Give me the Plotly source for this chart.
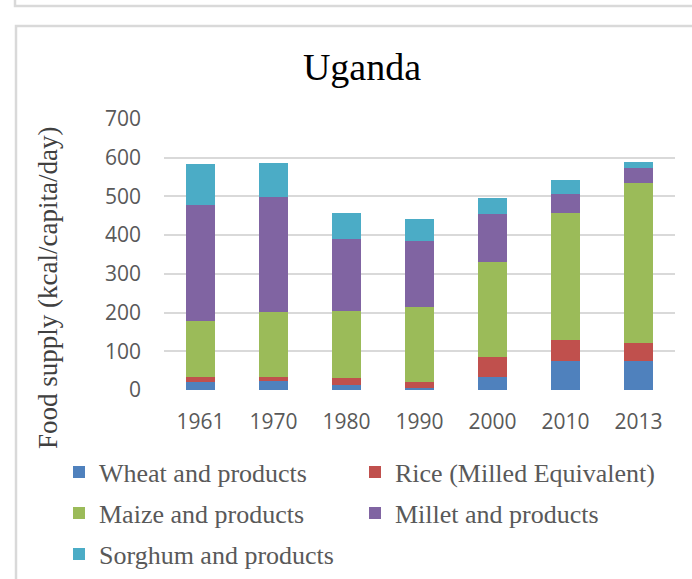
import plotly.graph_objects as go

years = ["1961", "1970", "1980", "1990", "2000", "2010", "2013"]
wheat = [21, 24, 12, 5, 34, 76, 76]
rice = [13, 10, 20, 16, 50, 52, 45]
maize = [145, 167, 173, 193, 246, 330, 414]
millet = [298, 298, 186, 171, 125, 48, 38]
sorghum = [106, 87, 67, 57, 42, 36, 17]

series = [
    ("Wheat and products", wheat, "#4F81BD"),
    ("Rice (Milled Equivalent)", rice, "#C0504D"),
    ("Maize and products", maize, "#9BBB59"),
    ("Millet and products", millet, "#8064A2"),
    ("Sorghum and products", sorghum, "#4BACC6"),
]

W, H = 692, 579
ML, MR, MT, MB = 164, 17, 119, 189
PW, PH = W - ML - MR, H - MT - MB


def px_x(px):
    return (px - ML) / PW


def px_y(py):
    return (H - MB - py) / PH


legend_names = ["legend", "legend2", "legend3", "legend4", "legend5"]
# (symbol-center-x, row-center-y) for each legend entry
legend_pos = [(79, 472), (375, 472), (79, 513), (375, 513), (79, 554)]

fig = go.Figure()
for (name, vals, color), lg in zip(series, legend_names):
    fig.add_trace(go.Bar(
        name=name, x=years, y=vals, marker=dict(color=color, line=dict(width=0)),
        legend=lg,
    ))

serif = "Liberation Serif"
sans = "Open Sans"
layout_legends = {}
for lg, (lx, ly) in zip(legend_names, legend_pos):
    layout_legends[lg] = dict(
        x=px_x(lx - 20), y=px_y(ly), xanchor="left", yanchor="middle",
        orientation="h", bgcolor="rgba(0,0,0,0)", borderwidth=0,
        font=dict(family=serif, size=26, color="#595959"),
    )

fig.update_layout(
    barmode="stack",
    bargap=0.595,
    width=W, height=H,
    margin=dict(l=ML, r=MR, t=MT, b=MB, pad=0, autoexpand=False),
    paper_bgcolor="white", plot_bgcolor="white",
    title=dict(text="Uganda", x=362 / W, xref="container", xanchor="center",
               y=1 - 67 / H, yref="container", yanchor="middle",
               font=dict(family=serif, size=38, color="black")),
    xaxis=dict(showgrid=False, showline=False, zeroline=False, ticks="",
               tickfont=dict(family=sans, size=21, color="#595959"),
               ticklabelstandoff=17, automargin=False),
    yaxis=dict(range=[0, 700], dtick=100, showgrid=True, gridcolor="#D9D9D9",
               gridwidth=1.5, zeroline=False, showline=False, ticks="",
               tickfont=dict(family=sans, size=21, color="#595959"),
               ticklabelstandoff=22, automargin=False),
    annotations=[dict(text="Food supply (kcal/capita/day)", textangle=-90,
                      x=px_x(48), y=px_y(288), xref="paper", yref="paper",
                      xanchor="center", yanchor="middle", showarrow=False,
                      font=dict(family=serif, size=27, color="#404040"))],
    shapes=[
        dict(type="rect", xref="paper", yref="paper",
             x0=px_x(15), x1=px_x(720), y0=px_y(6), y1=px_y(-40),
             line=dict(color="#D9D9D9", width=2.5), fillcolor="rgba(0,0,0,0)", layer="below"),
        dict(type="rect", xref="paper", yref="paper",
             x0=px_x(16), x1=px_x(720), y0=px_y(620), y1=px_y(26),
             line=dict(color="#D9D9D9", width=2.5), fillcolor="rgba(0,0,0,0)", layer="below"),
    ],
    showlegend=True,
    **layout_legends,
)

fig.write_html("out.html")
